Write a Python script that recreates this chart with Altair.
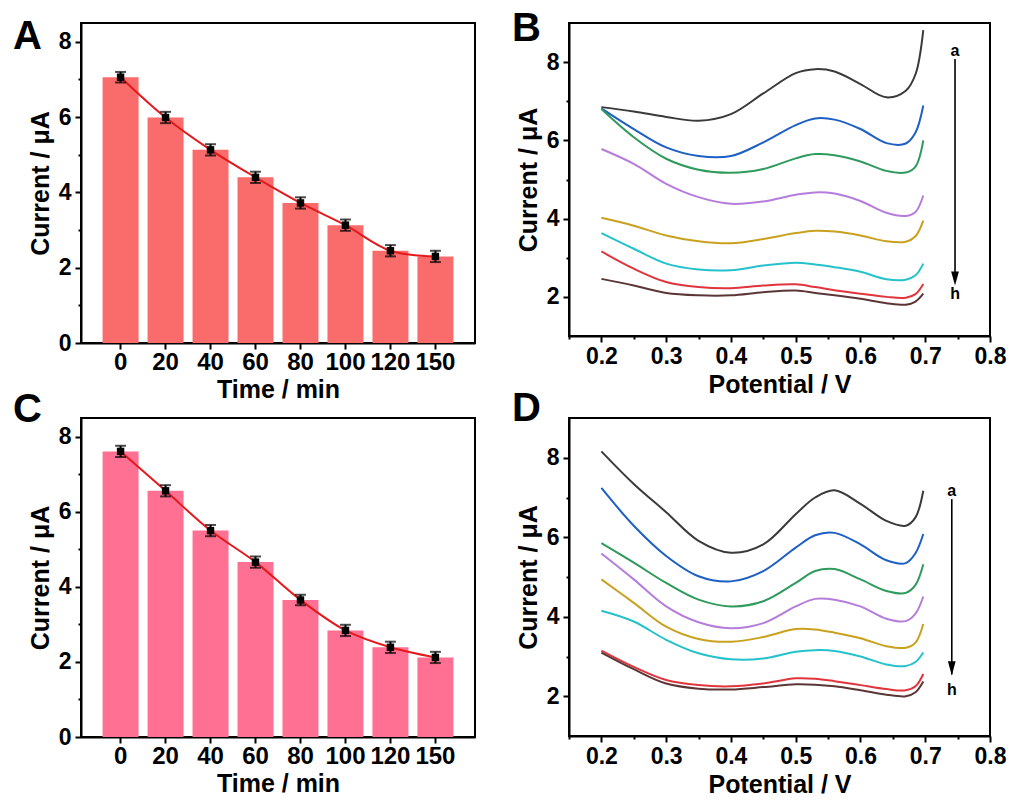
import altair as alt
import pandas as pd

# ---------------- data ----------------
time_labels = ["0", "20", "40", "60", "80", "100", "120", "150"]
a_mean = [7.06, 5.99, 5.13, 4.40, 3.72, 3.13, 2.45, 2.30]
a_err = [0.14, 0.15, 0.15, 0.15, 0.15, 0.15, 0.15, 0.15]
c_mean = [7.61, 6.56, 5.50, 4.66, 3.65, 2.84, 2.39, 2.12]
c_err = [0.15, 0.15, 0.15, 0.15, 0.14, 0.15, 0.15, 0.15]

potential = [0.2, 0.25, 0.3, 0.35, 0.4, 0.45, 0.5, 0.53, 0.56, 0.6, 0.64, 0.67, 0.685, 0.697]
curve_keys = ["a", "b", "c", "d", "e", "f", "g", "h"]
curve_colors = ["#3a3a3a", "#1d5fc4", "#2e9a5c", "#b57ddb", "#c9a11e", "#25c2cb", "#e0353d", "#5c3636"]

b_a = [6.85, 6.74, 6.60, 6.50, 6.67, 7.20, 7.72, 7.82, 7.76, 7.44, 7.10, 7.27, 7.69, 8.82]
b_b = [6.82, 6.29, 5.82, 5.60, 5.60, 5.95, 6.39, 6.56, 6.53, 6.29, 5.93, 5.92, 6.20, 6.89]
b_c = [6.80, 6.08, 5.53, 5.25, 5.17, 5.27, 5.54, 5.65, 5.62, 5.46, 5.22, 5.18, 5.33, 6.00]
b_d = [5.78, 5.40, 4.89, 4.55, 4.38, 4.44, 4.61, 4.67, 4.64, 4.45, 4.15, 4.07, 4.17, 4.59]
b_e = [4.02, 3.82, 3.57, 3.42, 3.37, 3.48, 3.63, 3.69, 3.67, 3.57, 3.42, 3.41, 3.55, 3.95]
b_f = [3.63, 3.23, 2.85, 2.70, 2.68, 2.80, 2.87, 2.83, 2.76, 2.64, 2.45, 2.44, 2.55, 2.85]
b_g = [3.16, 2.72, 2.38, 2.25, 2.22, 2.29, 2.32, 2.25, 2.17, 2.08, 2.00, 1.98, 2.07, 2.33]
b_h = [2.46, 2.29, 2.10, 2.04, 2.04, 2.12, 2.16, 2.10, 2.04, 1.95, 1.84, 1.80, 1.88, 2.08]

d_a = [8.16, 7.34, 6.63, 5.91, 5.61, 5.82, 6.58, 7.00, 7.18, 6.84, 6.41, 6.29, 6.50, 7.17]
d_b = [7.24, 6.29, 5.53, 5.02, 4.89, 5.15, 5.74, 6.05, 6.11, 5.82, 5.42, 5.35, 5.60, 6.08]
d_c = [5.85, 5.36, 4.85, 4.43, 4.26, 4.39, 4.85, 5.15, 5.20, 4.94, 4.65, 4.60, 4.80, 5.32]
d_d = [5.59, 4.94, 4.26, 3.86, 3.71, 3.84, 4.26, 4.45, 4.43, 4.26, 3.95, 3.89, 4.08, 4.51]
d_e = [4.94, 4.35, 3.75, 3.44, 3.37, 3.49, 3.69, 3.68, 3.60, 3.46, 3.26, 3.22, 3.35, 3.82]
d_f = [4.15, 3.88, 3.42, 3.08, 2.93, 2.95, 3.12, 3.16, 3.14, 3.00, 2.80, 2.76, 2.86, 3.10]
d_g = [3.15, 2.74, 2.41, 2.28, 2.25, 2.32, 2.45, 2.44, 2.38, 2.28, 2.18, 2.15, 2.25, 2.56]
d_h = [3.10, 2.68, 2.32, 2.19, 2.17, 2.23, 2.30, 2.29, 2.25, 2.15, 2.04, 2.00, 2.10, 2.37]

# arrow annotations: x, shaft top, shaft bottom, head centre, label "a" y, label "h" y
arrow_b = [0.746, 8.08, 2.40, 2.47, 8.29, 2.08]
arrow_d = [0.741, 6.96, 2.55, 2.70, 7.17, 2.15]

y_ticks_bar = [0, 1, 2, 3, 4, 5, 6, 7, 8]
y_ticks_curve = [2, 3, 4, 5, 6, 7, 8]
x_ticks_curve = [0.15, 0.2, 0.25, 0.3, 0.35, 0.4, 0.45, 0.5, 0.55, 0.6, 0.65, 0.7, 0.75, 0.8]

FONT = "Liberation Sans"
LINE_RED = "#e3191c"


def tick_size(test):
    return {"condition": {"test": test, "value": 3}, "value": 6}


def letter_layer(letter, dx, dy):
    return alt.Chart(pd.DataFrame({"s": [letter]})).mark_text(
        font=FONT, fontSize=40, fontWeight="bold", color="black",
        align="left", baseline="alphabetic"
    ).encode(text="s:N", x=alt.value(dx), y=alt.value(dy))


def bar_panel(letter, means, errs, color, dx, dy, h):
    df = pd.DataFrame({
        "t": time_labels,
        "m": means,
        "lo": [m - e for m, e in zip(means, errs)],
        "hi": [m + e for m, e in zip(means, errs)],
    })
    xs = alt.Scale(domain=time_labels, paddingInner=0.2, paddingOuter=0.48, align=0.5)
    x = alt.X("t:N", sort=time_labels, scale=xs,
              axis=alt.Axis(title="Time / min", labelAngle=0, tickSize=6, labelFontSize=24,
                            labelPadding=1, titlePadding=3, labelOverlap=False))
    ysc = alt.Scale(domain=[0, 8.5], nice=False)
    y = alt.Y("m:Q", scale=ysc,
              axis=alt.Axis(title="Current / μA", values=y_ticks_bar, tickCount=30,
                            format="d",
                            labelExpr="datum.value % 2 == 0 ? datum.label : ''",
                            tickSize=tick_size("datum.value % 2 != 0"),
                            labelPadding=4, titlePadding=5, labelOverlap=False))
    base = alt.Chart(df)
    xx = alt.X("t:N", sort=time_labels)
    bars = base.mark_bar(color=color).encode(x=x, y=y)
    line = base.mark_line(color=LINE_RED, strokeWidth=2, interpolate="catmull-rom").encode(
        x=xx, y="m:Q")
    rule = base.mark_rule(color="black", strokeWidth=2).encode(x=xx, y="lo:Q", y2="hi:Q")
    cap_lo = base.mark_tick(color="black", thickness=2, size=11, orient="horizontal").encode(
        x=xx, y="lo:Q")
    cap_hi = base.mark_tick(color="black", thickness=2, size=11, orient="horizontal").encode(
        x=xx, y="hi:Q")
    pts = base.mark_square(color="black", size=55, opacity=1).encode(x=xx, y="m:Q")
    return alt.layer(bars, line, rule, cap_lo, cap_hi, pts,
                     letter_layer(letter, dx, dy)).properties(width=394, height=h)


def curve_panel(letter, curves, arrow, dx, dy, h):
    rows = []
    for k, vals in zip(curve_keys, curves):
        for v, c in zip(potential, vals):
            rows.append({"k": k, "v": v, "i": c})
    df = pd.DataFrame(rows)
    xs = alt.Scale(domain=[0.15, 0.8], nice=False, zero=False)
    ys = alt.Scale(domain=[1, 9], nice=False, zero=False)
    x = alt.X("v:Q", scale=xs,
              axis=alt.Axis(title="Potential / V", values=x_ticks_curve, tickCount=30,
                            format=".1f",
                            labelExpr="round(datum.value * 20) % 2 == 1 ? '' : datum.label",
                            tickSize=tick_size("round(datum.value * 20) % 2 == 1"),
                            labelPadding=3, titlePadding=4,
                            labelFlush=False, labelOverlap=False))
    y = alt.Y("i:Q", scale=ys,
              axis=alt.Axis(title="Current / μA", values=y_ticks_curve, tickCount=30,
                            format="d",
                            labelExpr="datum.value % 2 == 0 ? datum.label : ''",
                            tickSize=tick_size("datum.value % 2 != 0"),
                            labelPadding=4, titlePadding=5, labelOverlap=False))
    lines = alt.Chart(df).mark_line(strokeWidth=2, interpolate="catmull-rom").encode(
        x=x, y=y,
        color=alt.Color("k:N", scale=alt.Scale(domain=curve_keys, range=curve_colors), legend=None),
        order=alt.Order("v:Q"))
    ax, top, bottom, head, ya, yh = arrow
    adf = pd.DataFrame({"x": [ax], "y": [top], "y2": [bottom], "hy": [head]})
    shaft = alt.Chart(adf).mark_rule(color="black", strokeWidth=1.6).encode(
        x="x:Q", y="y:Q", y2="y2:Q")
    arrow_head = alt.Chart(adf).mark_point(
        shape="M-0.55,-1L0.55,-1L0,1Z", filled=True, color="black", opacity=1, size=200
    ).encode(x="x:Q", y="hy:Q")
    tdf = pd.DataFrame({"x": [ax, ax], "y": [ya, yh], "s": ["a", "h"]})
    labels = alt.Chart(tdf).mark_text(font=FONT, fontSize=16, fontWeight="bold",
                                      color="black", baseline="middle").encode(
        x="x:Q", y="y:Q", text="s:N")
    return alt.layer(lines, shaft, arrow_head, labels,
                     letter_layer(letter, dx, dy)).properties(width=421, height=h)


panel_a = bar_panel("A", a_mean, a_err, "#fa6b6b", -68, 26, 320)
panel_b = curve_panel("B", [b_a, b_b, b_c, b_d, b_e, b_f, b_g, b_h], arrow_b, -57, 18, 313)
panel_c = bar_panel("C", c_mean, c_err, "#ff7092", -68, 4, 319)
panel_d = curve_panel("D", [d_a, d_b, d_c, d_d, d_e, d_f, d_g, d_h], arrow_d, -57, 3, 318)

chart = alt.concat(
    panel_a, panel_b, panel_c, panel_d,
    columns=2, spacing={"row": 75, "column": 94}, bounds="flush", align="each",
).properties(
    padding={"left": 4, "top": 0, "right": 1, "bottom": 2}
).configure_view(
    stroke="black", strokeWidth=2
).configure_axis(
    labelFont=FONT, titleFont=FONT, labelFontWeight="bold", titleFontWeight="bold",
    labelColor="black", titleColor="black", labelFontSize=23, titleFontSize=25,
    domainColor="black", domainWidth=2, tickColor="black", tickWidth=2, grid=False,
)

chart.save("out.html", embed_options={"renderer": "svg", "actions": False})
